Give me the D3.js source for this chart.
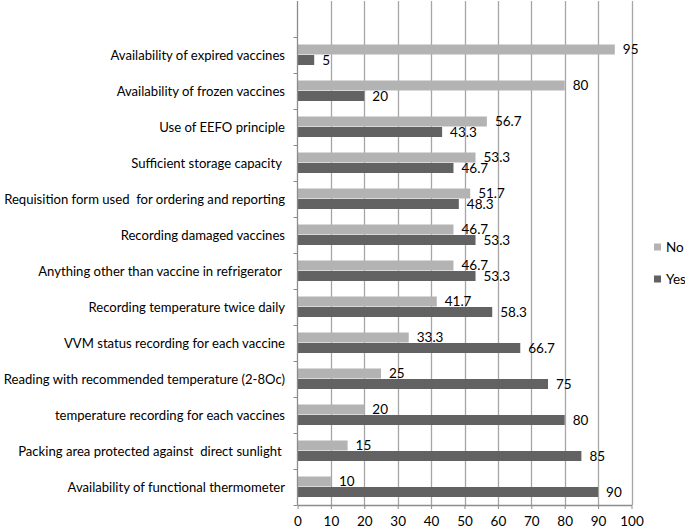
<!DOCTYPE html>
<html><head><meta charset="utf-8">
<script src="https://cdn.jsdelivr.net/npm/d3@7"></script>
<style>body{margin:0;background:#fff}svg{display:block;font-family:Lato,"Open Sans",sans-serif}</style>
</head><body><svg id="c" width="685" height="528"></svg>
<script>
const categories = [
  "Availability of expired vaccines",
  "Availability of frozen vaccines",
  "Use of EEFO principle",
  "Sufficient storage capacity ",
  "Requisition form used  for ordering and reporting",
  "Recording damaged vaccines",
  "Anything other than vaccine in refrigerator ",
  "Recording temperature twice daily",
  "VVM status recording for each vaccine",
  "Reading with recommended temperature (2-8Oc)",
  "temperature recording for each vaccines",
  "Packing area protected against  direct sunlight ",
  "Availability of functional thermometer"
];
const noValues  = [95, 80, 56.7, 53.3, 51.7, 46.7, 46.7, 41.7, 33.3, 25, 20, 15, 10];
const yesValues = [5, 20, 43.3, 46.7, 48.3, 53.3, 53.3, 58.3, 66.7, 75, 80, 85, 90];
const seriesNames = ["No", "Yes"];
const seriesColors = ["#b3b3b3", "#626262"];
const xTicks = [0,10,20,30,40,50,60,70,80,90,100];

const svg = d3.select("#c");
const x0 = 297.5, x1 = 631.5, yTop = 1, yBot = 505;
const x = d3.scaleLinear().domain([0,100]).range([x0,x1]);
const y = d3.scaleBand().domain(categories).range([yBot - categories.length*36, yBot]);
const inner = d3.scaleBand().domain(seriesNames).range([7.5, 28.5]);

// gridlines
svg.append("g").selectAll("line").data(xTicks.slice(1)).join("line")
  .attr("x1", d=>Math.round(x(d))+0.5).attr("x2", d=>Math.round(x(d))+0.5)
  .attr("y1", yTop).attr("y2", yBot)
  .attr("stroke", "#a6a6a6").attr("stroke-width", 1.3);

const data = categories.map((c,i)=>({c, vals:[noValues[i], yesValues[i]]}));
const g = svg.append("g").selectAll("g").data(data).join("g")
  .attr("transform", d=>`translate(0,${y(d.c)})`);
g.selectAll("rect").data(d=>d.vals.map((v,j)=>({k:seriesNames[j], v, j}))).join("rect")
  .attr("x", x(0)).attr("y", d=>inner(d.k)).attr("width", d=>x(d.v)-x(0))
  .attr("height", inner.bandwidth()-0.5).attr("fill", d=>seriesColors[d.j]);
g.selectAll("text").data(d=>d.vals.map((v,j)=>({k:seriesNames[j], v, j}))).join("text")
  .attr("x", d=>x(d.v)+8).attr("y", d=>inner(d.k)+inner.bandwidth()/2)
  .attr("dy", "0.35em").attr("font-size", 13.5).attr("fill", "#000")
  .text(d=>d.v);

// y axis
const yAxis = svg.append("g");
yAxis.append("line").attr("x1", x0).attr("x2", x0).attr("y1", yTop).attr("y2", yBot)
  .attr("stroke", "#8c8c8c").attr("stroke-width", 1.3);
const bounds = categories.map(c=>y(c)).concat([yBot]);
yAxis.selectAll("line.t").data(bounds).join("line").attr("class","t")
  .attr("x1", x0-4).attr("x2", x0).attr("y1", d=>d+0.5).attr("y2", d=>d+0.5)
  .attr("stroke", "#8c8c8c");
yAxis.selectAll("text").data(categories).join("text")
  .attr("x", 285).attr("y", d=>y(d)+y.bandwidth()/2).attr("dy","0.35em")
  .attr("text-anchor","end").attr("font-size", 13.1).attr("fill","#000")
  .style("white-space","pre").attr("xml:space","preserve")
  .text(d=>d);

// x axis
const xa = svg.append("g").attr("transform", `translate(0,${yBot})`)
  .call(d3.axisBottom(x).tickValues(xTicks).tickSize(4).tickSizeOuter(0).tickPadding(7));
xa.select(".domain").attr("stroke", "#8c8c8c").attr("stroke-width", 1.3);
xa.selectAll(".tick line").attr("stroke", "#8c8c8c");
xa.selectAll(".tick text").attr("font-size", 13.5).attr("fill", "#000")
  .attr("font-family", "Lato,'Open Sans',sans-serif");

// legend
const lg = svg.append("g").selectAll("g").data(seriesNames).join("g")
  .attr("transform", (d,i)=>`translate(654,${247 + i*32})`);
lg.append("rect").attr("x",0).attr("y",-3.5).attr("width",7).attr("height",7)
  .attr("fill",(d,i)=>seriesColors[i]);
lg.append("text").attr("x",12).attr("y",0).attr("dy","0.35em").attr("font-size",13.5)
  .attr("fill","#000").text(d=>d);
</script></body></html>
